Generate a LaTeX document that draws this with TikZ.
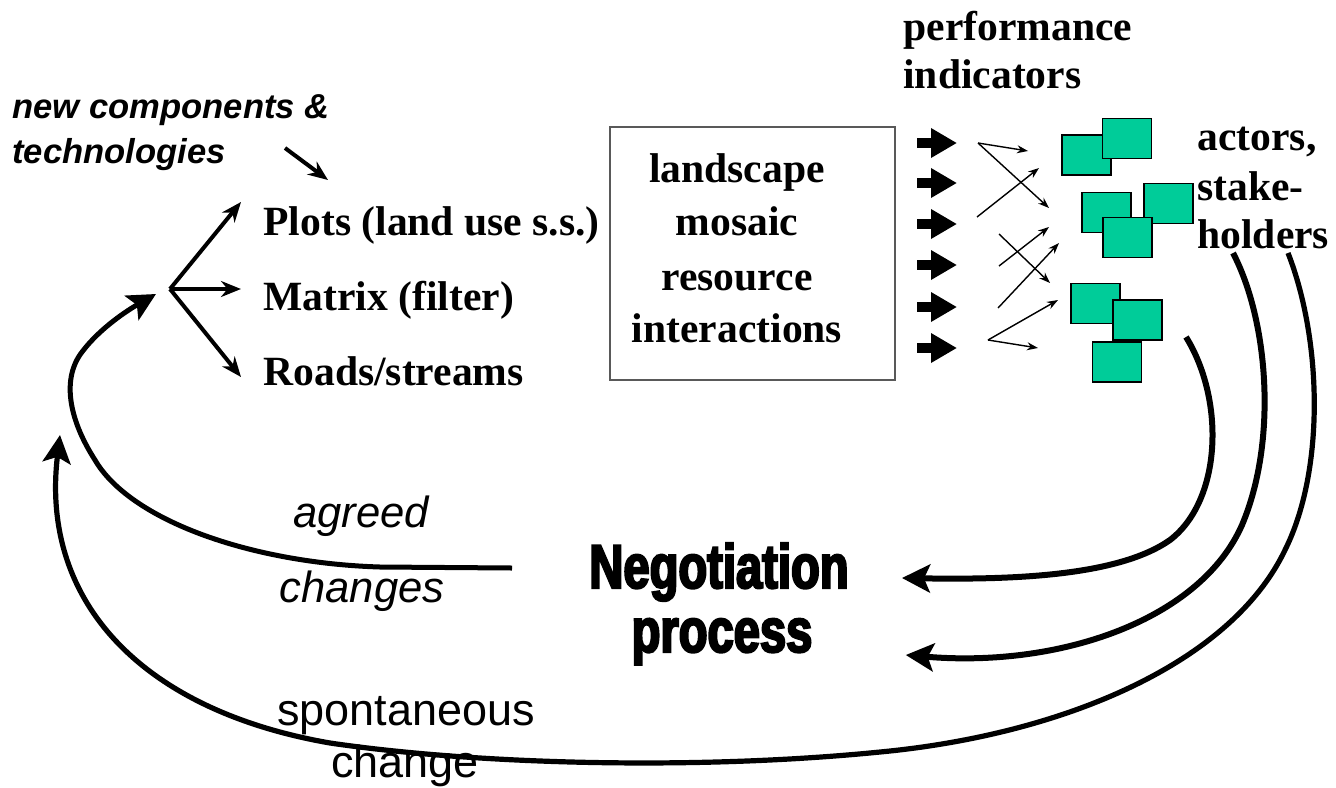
\documentclass[tikz,border=0pt]{standalone}
\usepackage{fontspec}
\setmainfont{Liberation Serif}
\setsansfont{Liberation Sans}
\newfontfamily\negofont[FakeStretch=0.76,FakeBold=3.5]{Liberation Sans Bold}
\usetikzlibrary{positioning,calc,arrows.meta}
\definecolor{patchgreen}{RGB}{0,204,153}
\tikzstyle{serif label}=[inner sep=0pt, anchor=base, font=\fontsize{20.8}{25}\selectfont\bfseries]
\tikzstyle{italic label}=[inner sep=0pt, anchor=base, font=\fontsize{21.8}{26}\selectfont\sffamily\itshape]
\tikzstyle{input label}=[inner sep=0pt, anchor=base west, font=\fontsize{17.3}{20}\selectfont\sffamily\bfseries\itshape]
\tikzstyle{plain label}=[inner sep=0pt, anchor=base, font=\fontsize{22.5}{27}\selectfont\sffamily]
\tikzstyle{nego label}=[inner sep=0pt, anchor=base, font=\fontsize{31}{36}\selectfont\negofont]
\tikzstyle{patch}=[draw=black, line width=0.6pt, fill=patchgreen, minimum width=24.5pt, minimum height=20pt, inner sep=0pt]
\tikzstyle{fork arrow}=[line width=2pt, -{Stealth[length=10pt,width=8pt]}]
\tikzstyle{thin arrow}=[line width=0.7pt, -{Stealth[length=5.5pt,width=4pt]}]
\tikzstyle{block arrow}=[line width=5pt, -{Triangle[length=13pt,width=14pt]}]
\tikzstyle{loop arrow}=[line width=3pt, -{Stealth[length=14pt,width=14pt,inset=3pt]}]
\newcommand{\patchat}[3]{\node[patch] (#1) at (#2,#3) {};}

\begin{document}
\begin{tikzpicture}[x=0.5pt, y=-0.5pt]
    \useasboundingbox (0,0) rectangle (1336,787);

    \node[input label] (newcomp) at (12,118) {new components \&};
    \node[input label] (techn) at (12,163) {technologies};
    \coordinate (fork) at (170,289);
    \coordinate (newin) at (285,148);

    \node[serif label, anchor=base west] (plots) at (263,235) {Plots (land use s.s.)};
    \node[serif label, anchor=base west] (mtx) at (263,310) {Matrix (filter)};
    \node[serif label, anchor=base west] (roads) at (263,385) {Roads/streams};

    \draw[fork arrow] (newin) -- ($(plots.base west)+(65,-55)$);
    \draw[fork arrow] (fork) -- ($(plots.base west)+(-22,-33)$);
    \draw[fork arrow] (fork) -- ($(mtx.base west)+(-22,-21)$);
    \draw[fork arrow] (fork) -- ($(roads.base west)+(-22,-8)$);

    \node[draw=black!65, line width=0.6pt, minimum width=142.5pt, minimum height=126.5pt] (mosaic) at (752.5,253.5) {};
    \foreach \w/\yy [count=\i] in {landscape/182,mosaic/235,resource/290,interactions/342}
        \node[serif label] (mos\i) at (737,\yy) {\w};

    \node[serif label, anchor=base west] (perf) at (903,40) {performance};
    \node[serif label, anchor=base west] (indic) at (903,88) {indicators};

    \foreach \yy [count=\i] in {143,183,224,265,307,348} {
        \coordinate (bs\i) at (917,\yy);
        \coordinate (be\i) at (957,\yy);
        \draw[block arrow] (bs\i) -- (be\i);
    }

    \foreach \a/\b/\c/\d [count=\i] in {978/143/1028/151, 978/143/1049/208, 977/217/1039/168,
        999/234/1050/283, 999/266/1049/227, 998/308/1059/243, 988/340/1058/300, 988/340/1038/348} {
        \coordinate (ts\i) at (\a,\b);
        \coordinate (te\i) at (\c,\d);
        \draw[thin arrow] (ts\i) -- (te\i);
    }

    \patchat{patch1}{1086.5}{155}
    \patchat{patch2}{1127}{138.5}
    \patchat{patch3}{1106.5}{212.5}
    \patchat{patch4}{1168.5}{203.5}
    \patchat{patch5}{1127.5}{237.5}
    \patchat{patch6}{1095.5}{303.5}
    \patchat{patch7}{1137.5}{320}
    \patchat{patch8}{1117}{362}

    \node[serif label, anchor=base west] (actors) at (1197,150) {actors,};
    \node[serif label, anchor=base west] (stake) at (1197,200) {stake-};
    \node[serif label, anchor=base west] (holders) at (1197,248) {holders};

    \node[nego label] (nego1) at (719,588) {Negotiation};
    \node[nego label] (nego2) at (722,652) {process};

    \coordinate (act1) at (1186,337);
    \coordinate (act2) at (1233,253);
    \coordinate (act3) at (1288,253);
    \coordinate (agr) at (512,568);

    \draw[loop arrow] (act1) .. controls (1225,400) and (1222,500) .. (1170,540)
        .. controls (1120,575) and (1020,580) .. ($(nego1.base east)+(53,-10)$);
    \draw[loop arrow] (act2) .. controls (1268,320) and (1278,440) .. (1242,525)
        .. controls (1200,620) and (1060,668) .. ($(nego2.base east)+(93,3)$);
    \draw[loop arrow, line width=2.6pt] (act3) .. controls (1322,340) and (1325,470) .. (1285,550)
        .. controls (1230,665) and (1060,735) .. (880,752)
        .. controls (700,770) and (480,765) .. (330,743)
        .. controls (140,710) and (40,600) .. (60,435);
    \draw[loop arrow, line width=2.5pt] (agr) -- (380,567) .. controls (250,563) and (130,520) .. (95,460)
        .. controls (68,418) and (62,378) .. (82,352)
        .. controls (100,328) and (128,310) .. ($(fork)+(-14,5)$);

    \node[italic label] (agreed) at (361,527) {agreed};
    \node[italic label] (changes) at (362,602) {changes};
    \node[plain label] (spont) at (406,725) {spontaneous};
    \node[plain label] (change) at (405,777) {change};
\end{tikzpicture}
\end{document}
